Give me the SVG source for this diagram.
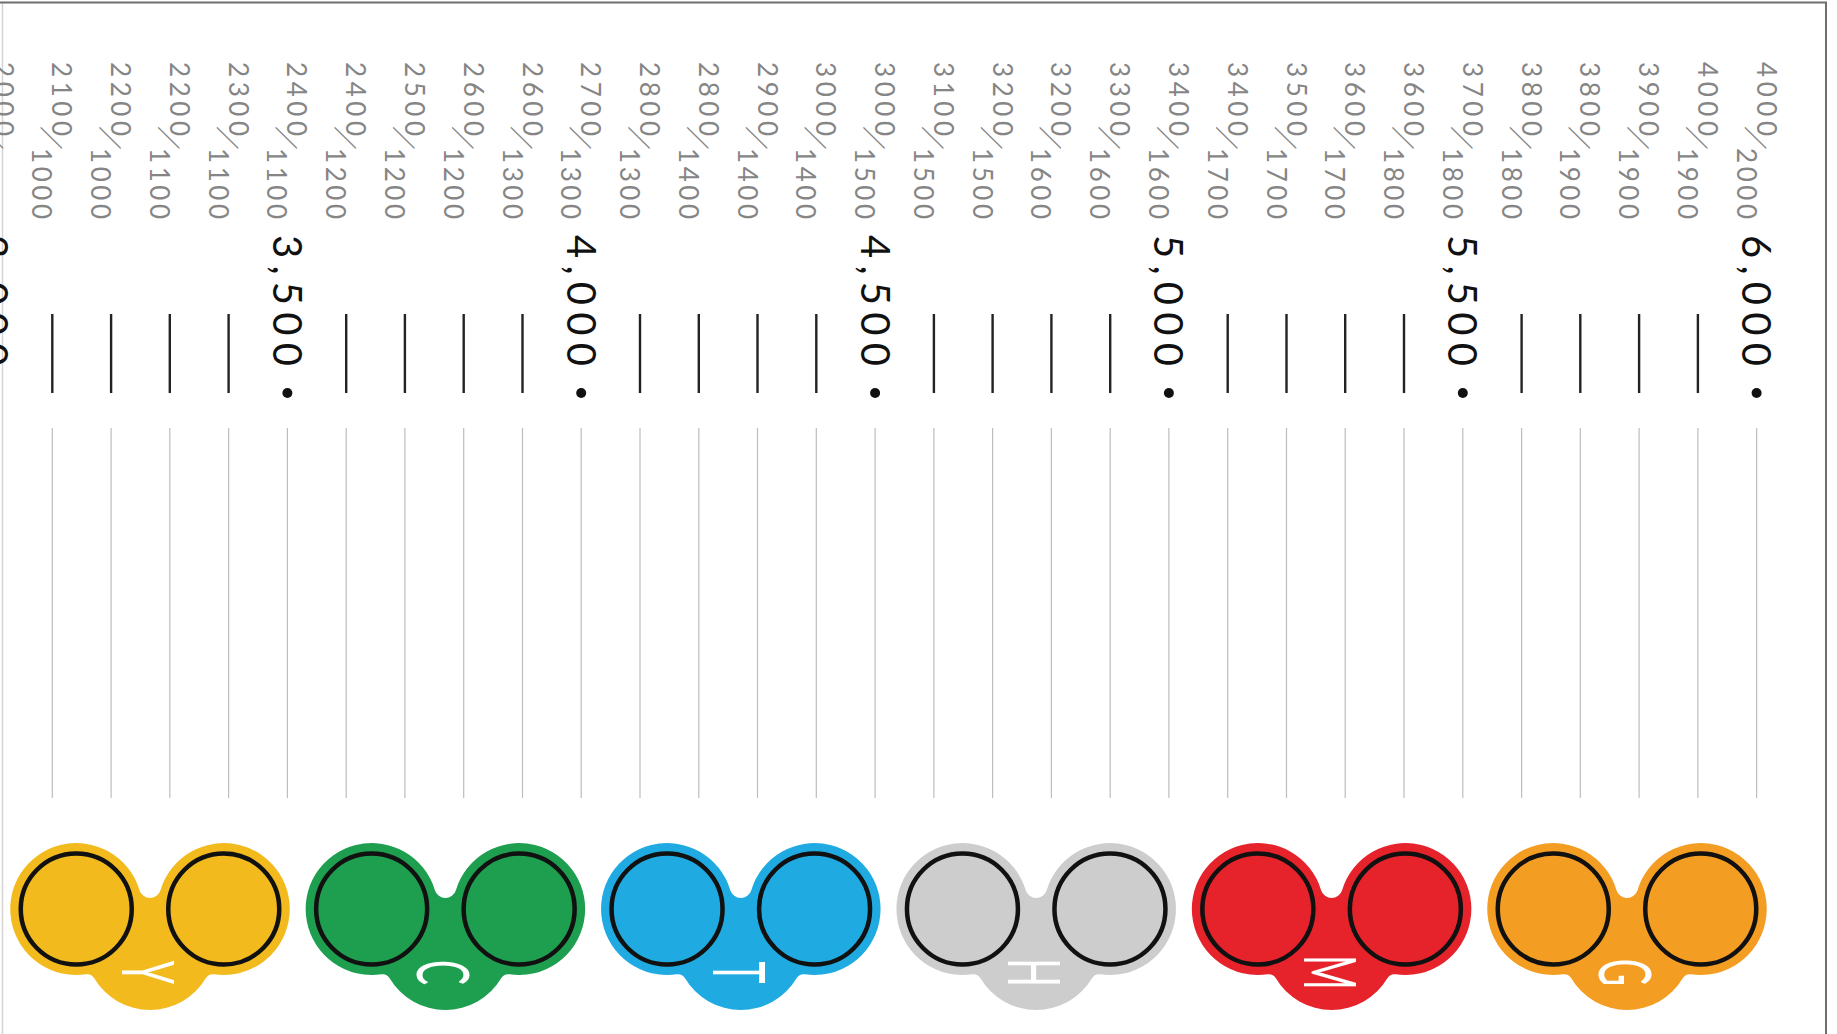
<svg xmlns="http://www.w3.org/2000/svg" xmlns:xlink="http://www.w3.org/1999/xlink" width="1837" height="1034" viewBox="0 0 1837 1034">
<style>
.n,.d{font-family:Lato,"DejaVu Sans",sans-serif;font-size:26px;font-weight:400;fill:#858585}
.s{font-family:Lato,"DejaVu Sans",sans-serif;font-size:36px;font-weight:300;fill:#858585;text-anchor:middle;dominant-baseline:central}
.big{font-family:Lato,"DejaVu Sans",sans-serif;font-size:40px;font-weight:400;fill:#111}
.lt{font-family:Lato,"DejaVu Sans",sans-serif;font-size:72px;font-weight:400;fill:#fff;text-anchor:middle}
.tk{stroke:#222;stroke-width:2.4}
.gl{stroke:#bdbdbd;stroke-width:1.2}
.dot{fill:#111}
.ring{fill:none;stroke:#111;stroke-width:4.5}
</style>
<defs>
<path id="blob" d="M-10.5,-18.83 A10.95,10.95 0 0 0 10.5,-18.83 A66,66 0 1 1 63.99,65.27 A8,8 0 0 0 55.93,69.11 A65,65 0 0 1 -55.93,69.11 A8,8 0 0 0 -63.99,65.27 A66,66 0 1 1 -10.5,-18.83 Z"/>
</defs>
<rect width="1837" height="1034" fill="#fff"/>
<g id="frame">
<line x1="2.5" y1="2.5" x2="2.5" y2="1034" stroke="#d4d4d4" stroke-width="1.5"/>
<line x1="0" y1="2.5" x2="1827" y2="2.5" stroke="#6e6e6e" stroke-width="2"/>
<line x1="1826" y1="2" x2="1826" y2="1034" stroke="#6e6e6e" stroke-width="2"/>
</g>
<g id="fractions">
<g transform="translate(-6.5,0) rotate(90)"><text class="n" x="62" y="0" textLength="74">2000</text><text class="s" transform="translate(138.5,-0.5) rotate(22)">/</text><text class="d" x="148" y="20" textLength="71">1000</text></g>
<g transform="translate(52.3,0) rotate(90)"><text class="n" x="62" y="0" textLength="74">2100</text><text class="s" transform="translate(138.5,-0.5) rotate(22)">/</text><text class="d" x="148" y="20" textLength="71">1000</text></g>
<g transform="translate(111.1,0) rotate(90)"><text class="n" x="62" y="0" textLength="74">2200</text><text class="s" transform="translate(138.5,-0.5) rotate(22)">/</text><text class="d" x="148" y="20" textLength="71">1000</text></g>
<g transform="translate(169.8,0) rotate(90)"><text class="n" x="62" y="0" textLength="74">2200</text><text class="s" transform="translate(138.5,-0.5) rotate(22)">/</text><text class="d" x="148" y="20" textLength="71">1100</text></g>
<g transform="translate(228.6,0) rotate(90)"><text class="n" x="62" y="0" textLength="74">2300</text><text class="s" transform="translate(138.5,-0.5) rotate(22)">/</text><text class="d" x="148" y="20" textLength="71">1100</text></g>
<g transform="translate(287.4,0) rotate(90)"><text class="n" x="62" y="0" textLength="74">2400</text><text class="s" transform="translate(138.5,-0.5) rotate(22)">/</text><text class="d" x="148" y="20" textLength="71">1100</text></g>
<g transform="translate(346.2,0) rotate(90)"><text class="n" x="62" y="0" textLength="74">2400</text><text class="s" transform="translate(138.5,-0.5) rotate(22)">/</text><text class="d" x="148" y="20" textLength="71">1200</text></g>
<g transform="translate(404.9,0) rotate(90)"><text class="n" x="62" y="0" textLength="74">2500</text><text class="s" transform="translate(138.5,-0.5) rotate(22)">/</text><text class="d" x="148" y="20" textLength="71">1200</text></g>
<g transform="translate(463.7,0) rotate(90)"><text class="n" x="62" y="0" textLength="74">2600</text><text class="s" transform="translate(138.5,-0.5) rotate(22)">/</text><text class="d" x="148" y="20" textLength="71">1200</text></g>
<g transform="translate(522.5,0) rotate(90)"><text class="n" x="62" y="0" textLength="74">2600</text><text class="s" transform="translate(138.5,-0.5) rotate(22)">/</text><text class="d" x="148" y="20" textLength="71">1300</text></g>
<g transform="translate(581.2,0) rotate(90)"><text class="n" x="62" y="0" textLength="74">2700</text><text class="s" transform="translate(138.5,-0.5) rotate(22)">/</text><text class="d" x="148" y="20" textLength="71">1300</text></g>
<g transform="translate(640,0) rotate(90)"><text class="n" x="62" y="0" textLength="74">2800</text><text class="s" transform="translate(138.5,-0.5) rotate(22)">/</text><text class="d" x="148" y="20" textLength="71">1300</text></g>
<g transform="translate(698.8,0) rotate(90)"><text class="n" x="62" y="0" textLength="74">2800</text><text class="s" transform="translate(138.5,-0.5) rotate(22)">/</text><text class="d" x="148" y="20" textLength="71">1400</text></g>
<g transform="translate(757.5,0) rotate(90)"><text class="n" x="62" y="0" textLength="74">2900</text><text class="s" transform="translate(138.5,-0.5) rotate(22)">/</text><text class="d" x="148" y="20" textLength="71">1400</text></g>
<g transform="translate(816.3,0) rotate(90)"><text class="n" x="62" y="0" textLength="74">3000</text><text class="s" transform="translate(138.5,-0.5) rotate(22)">/</text><text class="d" x="148" y="20" textLength="71">1400</text></g>
<g transform="translate(875.1,0) rotate(90)"><text class="n" x="62" y="0" textLength="74">3000</text><text class="s" transform="translate(138.5,-0.5) rotate(22)">/</text><text class="d" x="148" y="20" textLength="71">1500</text></g>
<g transform="translate(933.9,0) rotate(90)"><text class="n" x="62" y="0" textLength="74">3100</text><text class="s" transform="translate(138.5,-0.5) rotate(22)">/</text><text class="d" x="148" y="20" textLength="71">1500</text></g>
<g transform="translate(992.6,0) rotate(90)"><text class="n" x="62" y="0" textLength="74">3200</text><text class="s" transform="translate(138.5,-0.5) rotate(22)">/</text><text class="d" x="148" y="20" textLength="71">1500</text></g>
<g transform="translate(1051.4,0) rotate(90)"><text class="n" x="62" y="0" textLength="74">3200</text><text class="s" transform="translate(138.5,-0.5) rotate(22)">/</text><text class="d" x="148" y="20" textLength="71">1600</text></g>
<g transform="translate(1110.2,0) rotate(90)"><text class="n" x="62" y="0" textLength="74">3300</text><text class="s" transform="translate(138.5,-0.5) rotate(22)">/</text><text class="d" x="148" y="20" textLength="71">1600</text></g>
<g transform="translate(1168.9,0) rotate(90)"><text class="n" x="62" y="0" textLength="74">3400</text><text class="s" transform="translate(138.5,-0.5) rotate(22)">/</text><text class="d" x="148" y="20" textLength="71">1600</text></g>
<g transform="translate(1227.7,0) rotate(90)"><text class="n" x="62" y="0" textLength="74">3400</text><text class="s" transform="translate(138.5,-0.5) rotate(22)">/</text><text class="d" x="148" y="20" textLength="71">1700</text></g>
<g transform="translate(1286.5,0) rotate(90)"><text class="n" x="62" y="0" textLength="74">3500</text><text class="s" transform="translate(138.5,-0.5) rotate(22)">/</text><text class="d" x="148" y="20" textLength="71">1700</text></g>
<g transform="translate(1345.2,0) rotate(90)"><text class="n" x="62" y="0" textLength="74">3600</text><text class="s" transform="translate(138.5,-0.5) rotate(22)">/</text><text class="d" x="148" y="20" textLength="71">1700</text></g>
<g transform="translate(1404,0) rotate(90)"><text class="n" x="62" y="0" textLength="74">3600</text><text class="s" transform="translate(138.5,-0.5) rotate(22)">/</text><text class="d" x="148" y="20" textLength="71">1800</text></g>
<g transform="translate(1462.8,0) rotate(90)"><text class="n" x="62" y="0" textLength="74">3700</text><text class="s" transform="translate(138.5,-0.5) rotate(22)">/</text><text class="d" x="148" y="20" textLength="71">1800</text></g>
<g transform="translate(1521.6,0) rotate(90)"><text class="n" x="62" y="0" textLength="74">3800</text><text class="s" transform="translate(138.5,-0.5) rotate(22)">/</text><text class="d" x="148" y="20" textLength="71">1800</text></g>
<g transform="translate(1580.3,0) rotate(90)"><text class="n" x="62" y="0" textLength="74">3800</text><text class="s" transform="translate(138.5,-0.5) rotate(22)">/</text><text class="d" x="148" y="20" textLength="71">1900</text></g>
<g transform="translate(1639.1,0) rotate(90)"><text class="n" x="62" y="0" textLength="74">3900</text><text class="s" transform="translate(138.5,-0.5) rotate(22)">/</text><text class="d" x="148" y="20" textLength="71">1900</text></g>
<g transform="translate(1697.9,0) rotate(90)"><text class="n" x="62" y="0" textLength="74">4000</text><text class="s" transform="translate(138.5,-0.5) rotate(22)">/</text><text class="d" x="148" y="20" textLength="71">1900</text></g>
<g transform="translate(1756.6,0) rotate(90)"><text class="n" x="62" y="0" textLength="74">4000</text><text class="s" transform="translate(138.5,-0.5) rotate(22)">/</text><text class="d" x="148" y="20" textLength="71">2000</text></g>
</g>
<g id="labels">
<g transform="translate(-6.5,0) rotate(90)"><text class="big" x="235" y="14.5" textLength="131">3,000</text></g>
<g transform="translate(287.4,0) rotate(90)"><text class="big" x="235" y="14.5" textLength="131">3,500</text></g>
<g transform="translate(581.2,0) rotate(90)"><text class="big" x="235" y="14.5" textLength="131">4,000</text></g>
<g transform="translate(875.1,0) rotate(90)"><text class="big" x="235" y="14.5" textLength="131">4,500</text></g>
<g transform="translate(1168.9,0) rotate(90)"><text class="big" x="235" y="14.5" textLength="131">5,000</text></g>
<g transform="translate(1462.8,0) rotate(90)"><text class="big" x="235" y="14.5" textLength="131">5,500</text></g>
<g transform="translate(1756.6,0) rotate(90)"><text class="big" x="235" y="14.5" textLength="131">6,000</text></g>
</g>
<g id="ticks">
<line class="tk" x1="52.3" y1="314" x2="52.3" y2="393"/>
<line class="tk" x1="111.1" y1="314" x2="111.1" y2="393"/>
<line class="tk" x1="169.8" y1="314" x2="169.8" y2="393"/>
<line class="tk" x1="228.6" y1="314" x2="228.6" y2="393"/>
<circle class="dot" cx="287.4" cy="393" r="5"/>
<line class="tk" x1="346.2" y1="314" x2="346.2" y2="393"/>
<line class="tk" x1="404.9" y1="314" x2="404.9" y2="393"/>
<line class="tk" x1="463.7" y1="314" x2="463.7" y2="393"/>
<line class="tk" x1="522.5" y1="314" x2="522.5" y2="393"/>
<circle class="dot" cx="581.2" cy="393" r="5"/>
<line class="tk" x1="640" y1="314" x2="640" y2="393"/>
<line class="tk" x1="698.8" y1="314" x2="698.8" y2="393"/>
<line class="tk" x1="757.5" y1="314" x2="757.5" y2="393"/>
<line class="tk" x1="816.3" y1="314" x2="816.3" y2="393"/>
<circle class="dot" cx="875.1" cy="393" r="5"/>
<line class="tk" x1="933.9" y1="314" x2="933.9" y2="393"/>
<line class="tk" x1="992.6" y1="314" x2="992.6" y2="393"/>
<line class="tk" x1="1051.4" y1="314" x2="1051.4" y2="393"/>
<line class="tk" x1="1110.2" y1="314" x2="1110.2" y2="393"/>
<circle class="dot" cx="1168.9" cy="393" r="5"/>
<line class="tk" x1="1227.7" y1="314" x2="1227.7" y2="393"/>
<line class="tk" x1="1286.5" y1="314" x2="1286.5" y2="393"/>
<line class="tk" x1="1345.2" y1="314" x2="1345.2" y2="393"/>
<line class="tk" x1="1404" y1="314" x2="1404" y2="393"/>
<circle class="dot" cx="1462.8" cy="393" r="5"/>
<line class="tk" x1="1521.6" y1="314" x2="1521.6" y2="393"/>
<line class="tk" x1="1580.3" y1="314" x2="1580.3" y2="393"/>
<line class="tk" x1="1639.1" y1="314" x2="1639.1" y2="393"/>
<line class="tk" x1="1697.9" y1="314" x2="1697.9" y2="393"/>
<circle class="dot" cx="1756.6" cy="393" r="5"/>
</g>
<g id="guides">
<line class="gl" x1="52.3" y1="428" x2="52.3" y2="798"/>
<line class="gl" x1="111.1" y1="428" x2="111.1" y2="798"/>
<line class="gl" x1="169.8" y1="428" x2="169.8" y2="798"/>
<line class="gl" x1="228.6" y1="428" x2="228.6" y2="798"/>
<line class="gl" x1="287.4" y1="428" x2="287.4" y2="798"/>
<line class="gl" x1="346.2" y1="428" x2="346.2" y2="798"/>
<line class="gl" x1="404.9" y1="428" x2="404.9" y2="798"/>
<line class="gl" x1="463.7" y1="428" x2="463.7" y2="798"/>
<line class="gl" x1="522.5" y1="428" x2="522.5" y2="798"/>
<line class="gl" x1="581.2" y1="428" x2="581.2" y2="798"/>
<line class="gl" x1="640" y1="428" x2="640" y2="798"/>
<line class="gl" x1="698.8" y1="428" x2="698.8" y2="798"/>
<line class="gl" x1="757.5" y1="428" x2="757.5" y2="798"/>
<line class="gl" x1="816.3" y1="428" x2="816.3" y2="798"/>
<line class="gl" x1="875.1" y1="428" x2="875.1" y2="798"/>
<line class="gl" x1="933.9" y1="428" x2="933.9" y2="798"/>
<line class="gl" x1="992.6" y1="428" x2="992.6" y2="798"/>
<line class="gl" x1="1051.4" y1="428" x2="1051.4" y2="798"/>
<line class="gl" x1="1110.2" y1="428" x2="1110.2" y2="798"/>
<line class="gl" x1="1168.9" y1="428" x2="1168.9" y2="798"/>
<line class="gl" x1="1227.7" y1="428" x2="1227.7" y2="798"/>
<line class="gl" x1="1286.5" y1="428" x2="1286.5" y2="798"/>
<line class="gl" x1="1345.2" y1="428" x2="1345.2" y2="798"/>
<line class="gl" x1="1404" y1="428" x2="1404" y2="798"/>
<line class="gl" x1="1462.8" y1="428" x2="1462.8" y2="798"/>
<line class="gl" x1="1521.6" y1="428" x2="1521.6" y2="798"/>
<line class="gl" x1="1580.3" y1="428" x2="1580.3" y2="798"/>
<line class="gl" x1="1639.1" y1="428" x2="1639.1" y2="798"/>
<line class="gl" x1="1697.9" y1="428" x2="1697.9" y2="798"/>
<line class="gl" x1="1756.6" y1="428" x2="1756.6" y2="798"/>
</g>
<g id="lens-Y" transform="translate(150,909)"><use href="#blob" fill="#F2BA1D"/><circle class="ring" cx="-73.75" cy="0" r="55.5"/><circle class="ring" cx="73.75" cy="0" r="55.5"/><text class="lt" transform="translate(-28,63.5) rotate(90) scale(0.52,1)">Y</text></g>
<g id="lens-C" transform="translate(445.4,909)"><use href="#blob" fill="#1E9E4F"/><circle class="ring" cx="-73.75" cy="0" r="55.5"/><circle class="ring" cx="73.75" cy="0" r="55.5"/><text class="lt" transform="translate(-28,63.5) rotate(90) scale(0.52,1)">C</text></g>
<g id="lens-T" transform="translate(740.8,909)"><use href="#blob" fill="#1FABE2"/><circle class="ring" cx="-73.75" cy="0" r="55.5"/><circle class="ring" cx="73.75" cy="0" r="55.5"/><text class="lt" transform="translate(-28,63.5) rotate(90) scale(0.52,1)">T</text></g>
<g id="lens-H" transform="translate(1036.2,909)"><use href="#blob" fill="#CDCDCD"/><circle class="ring" cx="-73.75" cy="0" r="55.5"/><circle class="ring" cx="73.75" cy="0" r="55.5"/><text class="lt" transform="translate(-28,63.5) rotate(90) scale(0.52,1)">H</text></g>
<g id="lens-M" transform="translate(1331.6,909)"><use href="#blob" fill="#E6222B"/><circle class="ring" cx="-73.75" cy="0" r="55.5"/><circle class="ring" cx="73.75" cy="0" r="55.5"/><text class="lt" transform="translate(-28,63.5) rotate(90) scale(0.52,1)">M</text></g>
<g id="lens-G" transform="translate(1627,909)"><use href="#blob" fill="#F49D23"/><circle class="ring" cx="-73.75" cy="0" r="55.5"/><circle class="ring" cx="73.75" cy="0" r="55.5"/><text class="lt" transform="translate(-28,63.5) rotate(90) scale(0.52,1)">G</text></g>
</svg>
